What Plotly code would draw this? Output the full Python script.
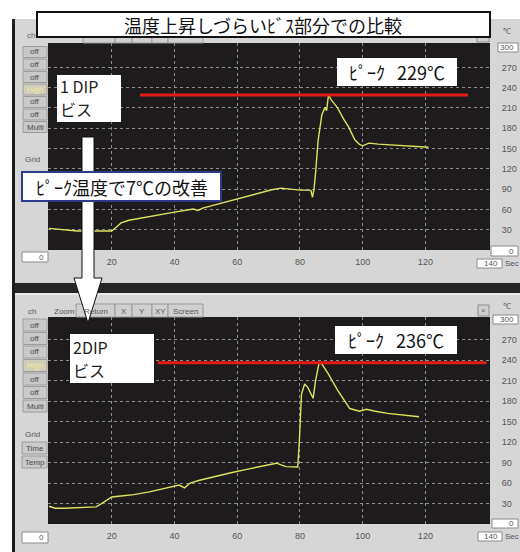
import plotly.graph_objects as go

# ---- measured data -------------------------------------------------------
# 1 DIP screw: time [s] and temperature [degC]
t_dip1 = [0, 3, 6, 9, 14, 20, 21.5, 23, 25.5, 30, 35, 40, 46, 47.5, 49, 53, 58,
          63, 67, 71, 74, 77, 80, 83, 83.5, 84, 84.5, 85, 85.8, 87, 88, 88.5,
          89.1, 90, 92, 94, 95.5, 97.5, 99, 100, 102, 105, 110, 115, 121]
temp_dip1 = [32, 31, 30, 28, 28, 28, 34, 40, 44, 48, 52, 56, 60.5, 58.5, 62, 67,
             73, 79, 84, 89, 91.5, 90, 88.5, 88.5, 88, 78, 90, 115, 162, 200,
             211, 206, 229, 222, 210, 193, 182, 163, 156, 154, 158, 156.5, 155,
             153.5, 152]

# 2 DIP screw: time [s] and temperature [degC]
t_dip2 = [0, 2, 5, 10, 15, 16.5, 18, 20, 23, 27, 32, 37, 41.5, 43.2, 45, 48, 53,
          58, 63, 67, 70, 72.5, 75.5, 79.3, 79.8, 80.5, 81.5, 82.5, 84.2, 85,
          86.1, 87, 89, 92, 95.9, 99, 101.2, 104, 108, 113, 118]
temp_dip2 = [26, 23, 23, 24, 25, 29, 34, 39.5, 41, 43, 47, 52, 57, 53, 60, 64,
             70, 75, 80, 84, 87, 89, 84, 83.5, 120, 190, 205, 200, 184, 210, 236,
             234, 220, 196, 169, 165, 168, 165, 162, 160, 157]

x_ticks = [20, 40, 60, 80, 100, 120]
y_ticks = [30, 60, 90, 120, 150, 180, 210, 240, 270]

peak1 = max(temp_dip1)
peak2 = max(temp_dip2)
gain = peak2 - peak1

W, H = 520, 552
CJK = "Noto Sans CJK JP"
UI = "Liberation Sans"
SCREEN = "#1d1b1b"
GAP = "\u00a0\u00a0\u00a0"


def px(x):
    return x / W


def py(y):
    return 1 - y / H


shapes = []
annotations = []


def rect(x0, y0, x1, y1, fill, line=None, lw=1, layer="below"):
    shapes.append(dict(type="rect", xref="paper", yref="paper",
                       x0=px(x0), x1=px(x1), y0=py(y1), y1=py(y0),
                       fillcolor=fill, layer=layer,
                       line=dict(color=line or "rgba(0,0,0,0)", width=lw if line else 0)))


def text(x, y, s, size=8, color="#555", font=UI, xanchor="center", pad=1):
    annotations.append(dict(xref="paper", yref="paper", x=px(x), y=py(y),
                            text=s, showarrow=False, xanchor=xanchor,
                            yanchor="middle", borderpad=pad,
                            font=dict(family=font, size=size, color=color)))


def button(x0, y0, x1, y1, label, fill="#c9c9c9", color="#4a4a4a"):
    rect(x0, y0, x1, y1, fill, "#9c9c9c", 1)
    text((x0 + x1) / 2, (y0 + y1) / 2, label, 8, color, pad=0)


def entry(x0, y0, x1, y1, label):
    rect(x0, y0, x1, y1, "#ffffff", "#8a8a8a", 1)
    text(x1 - 3, (y0 + y1) / 2, label, 8, "#555", xanchor="right", pad=0)


# ---- window chrome ----------------------------------------------------------
rect(12, 19, 15, 552, "#1e1e1e")
rect(15, 19, 520, 283, "#d6d6d6")
rect(15, 283, 520, 293, "#262626")
rect(15, 293, 520, 552, "#d6d6d6")
rect(15, 293, 520, 295, "#ececec")

# dark scope screens
rect(48, 43, 490, 250, SCREEN)
rect(48, 317, 490, 524, SCREEN)

# upper window: tab strip and corner box (mostly under the title)
for a, b in [(83, 115), (115, 132), (132, 152), (152, 168), (168, 203)]:
    rect(a, 37, b, 43, "#cfcfcf", "#9a9a9a")
rect(477, 30, 489, 42, "#cfcfcf", "#8a8a8a")

# lower window: tabs
text(32, 311, "ch", 8, "#555", pad=0)
text(64, 311, "Zoom", 8, "#555", pad=0)
for (a, b), lab in zip([(76, 115), (115, 132), (132, 152), (152, 168), (168, 203)],
                       ["Return", "X", "Y", "XY", "Screen"]):
    rect(a, 304, b, 317, "#d0d0d0", "#9a9a9a")
    text((a + b) / 2, 311, lab, 8, "#555", pad=0)
rect(478, 305, 489, 316, "#cfcfcf", "#8a8a8a")
text(483.5, 310.5, "×", 8, "#666", pad=0)

# channel buttons
labels = ["off", "off", "off", "High", "off", "off", "Multi"]
text(31, 36, "ch", 8, "#666", pad=0)
for i, lab in enumerate(labels):
    yc = 52 + 12.5 * i
    if lab == "High":
        button(23, yc - 5.5, 47, yc + 5.5, lab, "#cfcdb8", "#f2ea9c")
    else:
        button(23, yc - 5.5, 47, yc + 5.5, lab)
text(32, 160, "Grid", 8, "#555", pad=0)

for i, lab in enumerate(labels):
    yc = 325 + 13.5 * i
    if lab == "High":
        button(23, yc - 6, 47, yc + 6, lab, "#cfcdb8", "#f2ea9c")
    else:
        button(23, yc - 6, 47, yc + 6, lab)
text(32, 434, "Grid", 8, "#555", pad=0)
button(22, 442, 47, 454, "Time")
button(22, 456, 47, 468, "Temp")

# value entries and units
text(507, 31, "℃", 8, "#555", pad=0)
entry(498, 43, 518, 52, "300")
entry(491, 246, 518, 256, "0")
entry(477, 259, 502, 268, "140")
text(504, 263.5, "Sec", 8, "#555", xanchor="left", pad=0)
entry(22, 252, 48, 262, "0")

text(507, 306, "℃", 8, "#555", pad=0)
entry(493, 315, 518, 324, "300")
entry(492, 519, 518, 528, "0")
entry(478, 532, 502, 541, "140")
text(504, 536.5, "Sec", 8, "#555", xanchor="left", pad=0)
entry(22, 532, 48, 543, "0")

# ---- peak lines ---------------------------------------------------------------
shapes.append(dict(type="line", xref="x", yref="y", x0=29, x1=133.6,
                   y0=peak1, y1=peak1, line=dict(color="#e41b1b", width=3),
                   layer="above"))
shapes.append(dict(type="line", xref="x2", yref="y2", x0=34.7, x1=139.5,
                   y0=peak2, y1=peak2, line=dict(color="#e41b1b", width=3),
                   layer="above"))

# ---- arrow between the two recordings ---------------------------------------
pts = [(82, 137), (94, 137), (94, 278), (102, 278), (88, 323), (74, 278), (82, 278)]
path = "M " + " L ".join(f"{px(x):.5f},{py(y):.5f}" for x, y in pts) + " Z"
shapes.append(dict(type="path", xref="paper", yref="paper", path=path,
                   fillcolor="#ffffff", line=dict(color="#111", width=1),
                   layer="above"))

# ---- labelled boxes -----------------------------------------------------------
rect(37, 12, 490, 37, "#ffffff", "#111111", 2, "above")
text(263, 24.5, "温度上昇しづらいﾋﾞｽ部分での比較", 18, "#111", CJK)

rect(57, 75, 121, 122, "#ffffff", None, 0, "above")
text(59, 86, "1 DIP", 16, "#222", CJK, "left", pad=0)
text(59, 109, "ビス", 16, "#222", CJK, "left", pad=0)

rect(337, 58, 457, 86, "#ffffff", None, 0, "above")
text(397, 72, f"ﾋﾟｰｸ{GAP}{peak1}℃", 18, "#111", CJK)

rect(22, 172, 221, 201, "#ffffff", "#2b3a8c", 2, "above")
text(121.5, 186.5, f"ﾋﾟｰｸ温度で{gain}℃の改善", 18, "#111", CJK)

rect(70, 334, 154, 383, "#ffffff", None, 0, "above")
text(72, 347, "2DIP", 16, "#222", CJK, "left", pad=0)
text(72, 370, "ビス", 16, "#222", CJK, "left", pad=0)

rect(335, 326, 457, 354, "#ffffff", None, 0, "above")
text(396, 340, f"ﾋﾟｰｸ{GAP}{peak2}℃", 18, "#111", CJK)

# ---- traces -------------------------------------------------------------------
fig = go.Figure()
fig.add_trace(go.Scatter(x=t_dip1, y=temp_dip1, mode="lines", xaxis="x", yaxis="y",
                         line=dict(color="#dfe360", width=1.4), hoverinfo="skip"))
fig.add_trace(go.Scatter(x=t_dip2, y=temp_dip2, mode="lines", xaxis="x2", yaxis="y2",
                         line=dict(color="#dfe360", width=1.4), hoverinfo="skip"))

grid = dict(showgrid=True, gridcolor="#8e8e8e", griddash="dot", gridwidth=1,
            zeroline=False, showline=False, ticks="outside",
            tickcolor="rgba(0,0,0,0)",
            tickfont=dict(family=UI, size=9, color="#555"))
xgrid = dict(grid, ticklen=3, tickvals=x_ticks)
ygrid = dict(grid, ticklen=9, tickvals=y_ticks, side="right")

fig.update_layout(
    width=W, height=H, margin=dict(l=0, r=0, t=0, b=0),
    paper_bgcolor="#ffffff", plot_bgcolor=SCREEN, showlegend=False,
    xaxis=dict(domain=[px(48), px(490)], range=[-0.32, 140.6], anchor="y", **xgrid),
    yaxis=dict(domain=[py(250), py(43)], range=[0, 306], anchor="x", **ygrid),
    xaxis2=dict(domain=[px(48), px(490)], range=[-0.32, 140.6], anchor="y2", **xgrid),
    yaxis2=dict(domain=[py(524), py(317)], range=[0, 303], anchor="x2", **ygrid),
    shapes=shapes, annotations=annotations,
)

fig.write_html("out.html")
